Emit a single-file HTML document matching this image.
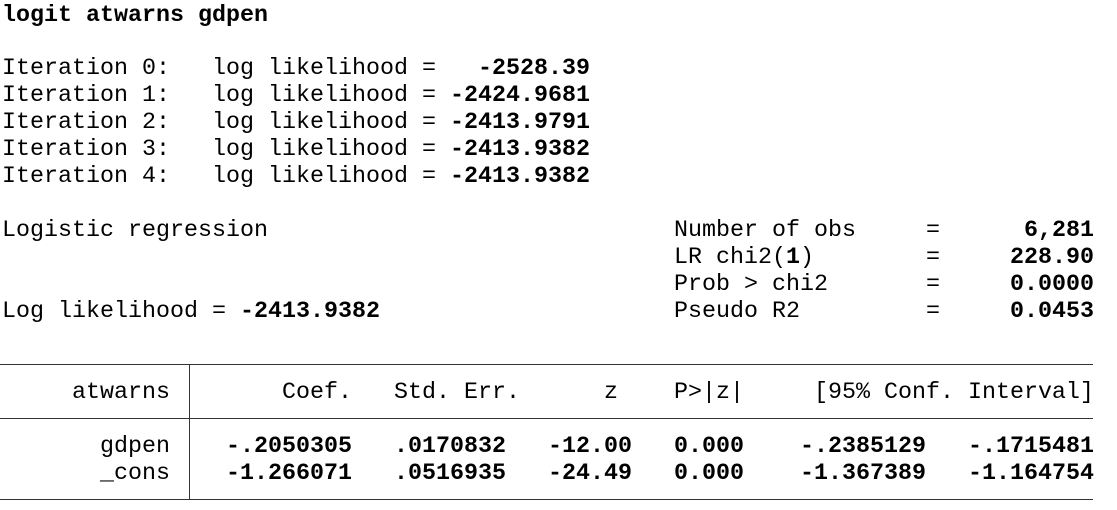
<!DOCTYPE html>
<html><head><meta charset="utf-8"><style>
html,body{margin:0;padding:0;background:#fff;width:1117px;height:510px;overflow:hidden;}
.l{position:absolute;left:2px;white-space:pre;font-family:"Liberation Mono",monospace;font-size:23.33px;line-height:27px;height:27px;color:#000;}
b{font-weight:bold;}
.hr{position:absolute;left:0;width:1093px;height:1px;background:#333;}
.vr{position:absolute;left:189px;width:1px;background:#333;}
</style></head><body>
<div class="l" style="top:3px"><b>logit atwarns gdpen</b></div>
<div class="l" style="top:56px">Iteration 0:   log likelihood = <b>  -2528.39</b></div>
<div class="l" style="top:83px">Iteration 1:   log likelihood = <b>-2424.9681</b></div>
<div class="l" style="top:110px">Iteration 2:   log likelihood = <b>-2413.9791</b></div>
<div class="l" style="top:137px">Iteration 3:   log likelihood = <b>-2413.9382</b></div>
<div class="l" style="top:164px">Iteration 4:   log likelihood = <b>-2413.9382</b></div>
<div class="l" style="top:218px">Logistic regression                             Number of obs     = <b>     6,281</b></div>
<div class="l" style="top:245px">                                                LR chi2(<b>1</b>)        = <b>    228.90</b></div>
<div class="l" style="top:272px">                                                Prob &gt; chi2       = <b>    0.0000</b></div>
<div class="l" style="top:299px">Log likelihood = <b>-2413.9382</b>                     Pseudo R2         = <b>    0.0453</b></div>
<div class="hr" style="top:364px"></div>
<div class="l" style="top:380px">     atwarns        Coef.   Std. Err.      z    P&gt;|z|     [95% Conf. Interval]</div>
<div class="hr" style="top:418px"></div>
<div class="l" style="top:434px">       gdpen    <b>-.2050305   .0170832   -12.00   0.000    -.2385129   -.1715481</b></div>
<div class="l" style="top:461px">       _cons    <b>-1.266071   .0516935   -24.49   0.000    -1.367389   -1.164754</b></div>
<div class="hr" style="top:499px"></div>
<div class="vr" style="top:364px;height:136px"></div>
</body></html>
